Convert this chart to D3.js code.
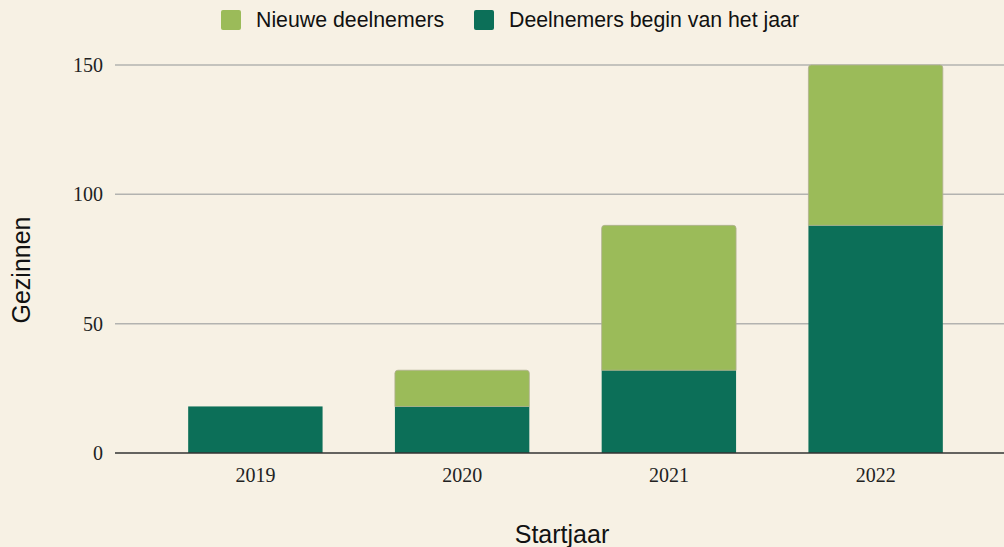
<!DOCTYPE html>
<html>
<head>
<meta charset="utf-8">
<script src="https://cdn.jsdelivr.net/npm/d3@7"></script>
<style>
  html, body { margin: 0; padding: 0; background: #f7f1e4; }
  svg { display: block; }
</style>
</head>
<body>
<div id="container"></div>
<script>
const years = ['2019', '2020', '2021', '2022'];
const beginValues = [18, 18, 32, 88];
const newValues = [0, 14, 56, 62];
const seriesNames = ['Nieuwe deelnemers', 'Deelnemers begin van het jaar'];
const yTicks = [0, 50, 100, 150];

const W = 1004, H = 547;
const colors = { begin: '#0c6f58', nieuw: '#9bbb59' };

const svg = d3.select('#container')
    .append('svg')
    .attr('width', W)
    .attr('height', H);

const x = d3.scaleBand()
    .domain(years)
    .range([152, 979])
    .paddingInner(0.35)
    .paddingOuter(0.175);

const y = d3.scaleLinear()
    .domain([0, 150])
    .range([453, 65]);

// gridlines
svg.append('g')
    .selectAll('line')
    .data(yTicks.filter(d => d > 0))
    .join('line')
    .attr('x1', 115)
    .attr('x2', W)
    .attr('y1', d => y(d))
    .attr('y2', d => y(d))
    .attr('stroke', '#b3b3b0')
    .attr('stroke-width', 1.5);

// y tick labels
svg.append('g')
    .selectAll('text')
    .data(yTicks)
    .join('text')
    .attr('x', 103)
    .attr('y', d => y(d))
    .attr('dy', '0.35em')
    .attr('text-anchor', 'end')
    .attr('font-family', 'Liberation Serif, serif')
    .attr('font-size', 20)
    .attr('fill', '#222')
    .text(d => d);

const data = years.map((yr, i) => ({ year: yr, begin: beginValues[i], nieuw: newValues[i] }));

// rounded-top path
const topRounded = (x0, y0, w, h, r) => {
    r = Math.min(r, h);
    return `M${x0},${y0 + h} L${x0},${y0 + r} Q${x0},${y0} ${x0 + r},${y0} L${x0 + w - r},${y0} Q${x0 + w},${y0} ${x0 + w},${y0 + r} L${x0 + w},${y0 + h} Z`;
};

const bars = svg.append('g');

// dark segments (bottom)
bars.selectAll('rect.begin')
    .data(data)
    .join('rect')
    .attr('class', 'begin')
    .attr('x', d => x(d.year))
    .attr('width', x.bandwidth())
    .attr('y', d => y(d.begin))
    .attr('height', d => y(0) - y(d.begin))
    .attr('fill', colors.begin);

// light segments (top)
bars.selectAll('path.nieuw')
    .data(data.filter(d => d.nieuw > 0))
    .join('path')
    .attr('class', 'nieuw')
    .attr('d', d => topRounded(x(d.year), y(d.begin + d.nieuw), x.bandwidth(), y(d.begin) - y(d.begin + d.nieuw), 3))
    .attr('fill', colors.nieuw)
    .attr('stroke', '#b0b08f')
    .attr('stroke-width', 0.8);

// baseline
svg.append('line')
    .attr('x1', 115)
    .attr('x2', W)
    .attr('y1', y(0))
    .attr('y2', y(0))
    .attr('stroke', '#333')
    .attr('stroke-width', 1.5);

// x tick labels
svg.append('g')
    .selectAll('text')
    .data(years)
    .join('text')
    .attr('x', d => x(d) + x.bandwidth() / 2)
    .attr('y', 475)
    .attr('dy', '0.35em')
    .attr('text-anchor', 'middle')
    .attr('font-family', 'Liberation Serif, serif')
    .attr('font-size', 20)
    .attr('fill', '#222')
    .text(d => d);

// axis titles
svg.append('text')
    .attr('x', 562)
    .attr('y', 534)
    .attr('dy', '0.35em')
    .attr('text-anchor', 'middle')
    .attr('font-family', 'Liberation Sans, Arial, sans-serif')
    .attr('font-size', 25)
    .attr('fill', '#111')
    .text('Startjaar');

svg.append('text')
    .attr('transform', 'translate(21, 270) rotate(-90)')
    .attr('dy', '0.35em')
    .attr('text-anchor', 'middle')
    .attr('font-family', 'Liberation Sans, Arial, sans-serif')
    .attr('font-size', 25)
    .attr('fill', '#111')
    .text('Gezinnen');

// legend
const legendItems = [
    { name: seriesNames[0], color: colors.nieuw, x: 221 },
    { name: seriesNames[1], color: colors.begin, x: 474 }
];
const legend = svg.append('g')
    .selectAll('g')
    .data(legendItems)
    .join('g')
    .attr('transform', d => `translate(${d.x}, 10)`);

legend.append('rect')
    .attr('width', 20)
    .attr('height', 20)
    .attr('rx', 2)
    .attr('fill', d => d.color);

legend.append('text')
    .attr('x', 35)
    .attr('y', 10)
    .attr('dy', '0.35em')
    .attr('font-family', 'Liberation Sans, Arial, sans-serif')
    .attr('font-size', 21.3)
    .attr('fill', '#111')
    .text(d => d.name);
</script>
</body>
</html>
